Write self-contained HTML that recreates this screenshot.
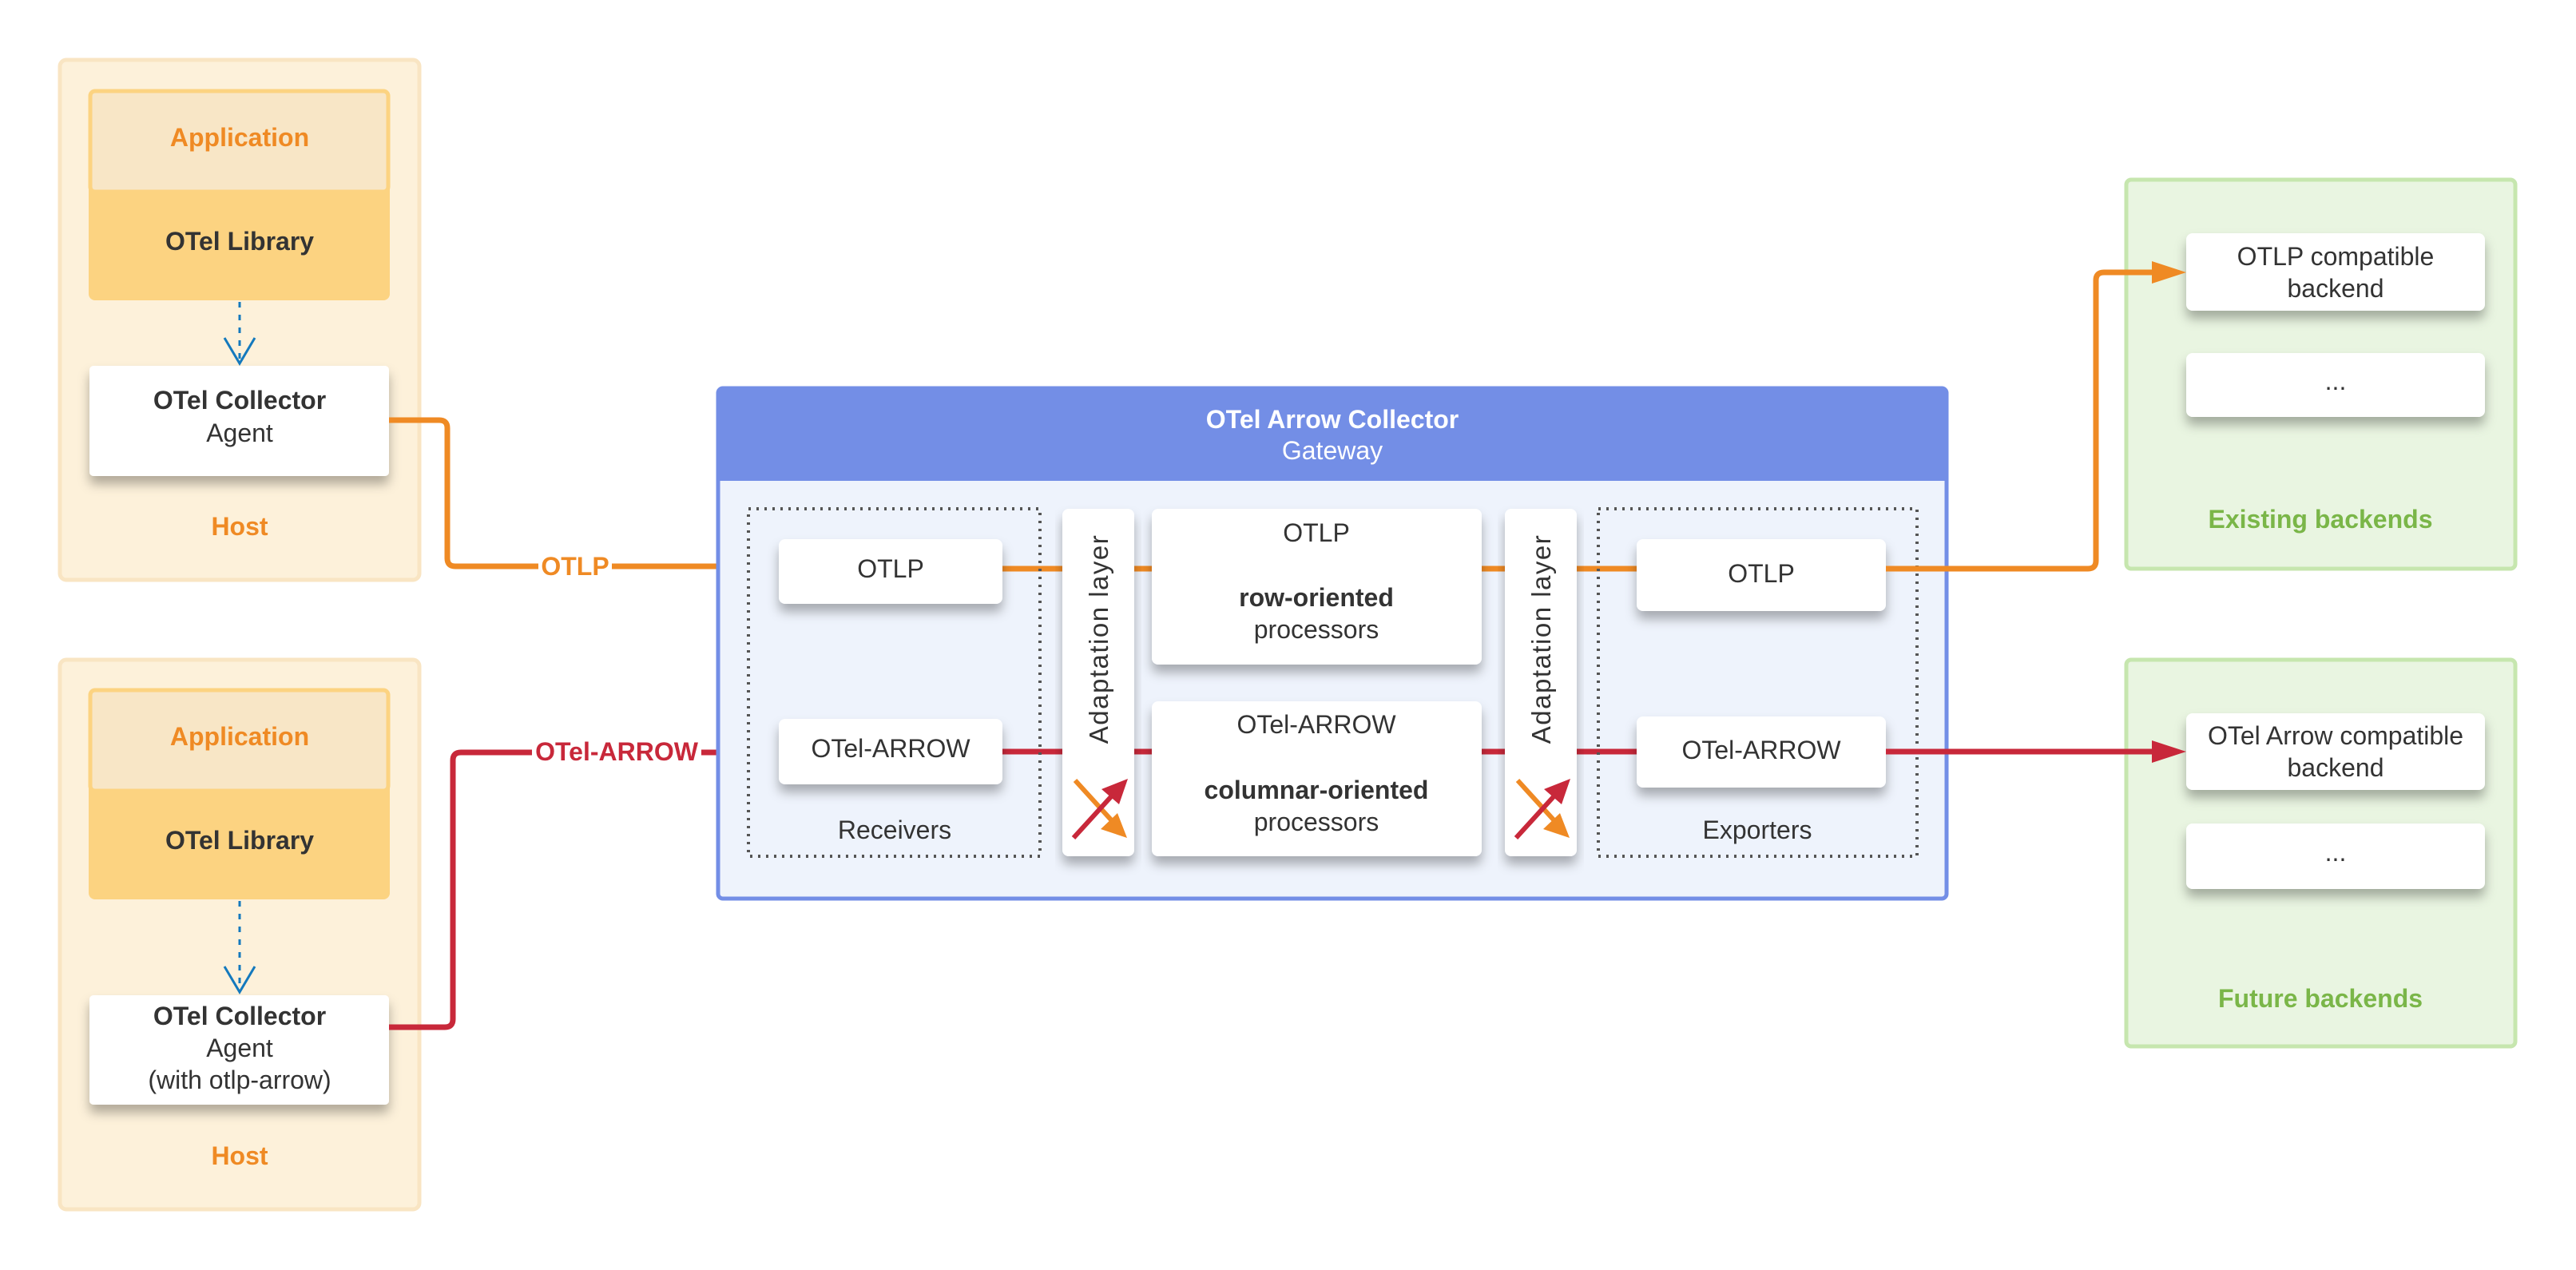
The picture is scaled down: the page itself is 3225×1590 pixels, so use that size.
<!DOCTYPE html>
<html><head><meta charset="utf-8"><style>
html,body{margin:0;padding:0;background:#fff;}
svg{display:block;}
text{font-family:"Liberation Sans",Arial,sans-serif;}
</style></head><body>
<svg width="3225" height="1590" viewBox="0 0 3225 1590" xmlns="http://www.w3.org/2000/svg">
<defs>
<filter id="sh" x="-10%" y="-20%" width="120%" height="160%">
<feDropShadow dx="0" dy="10" stdDeviation="7" flood-color="#000" flood-opacity="0.3"/>
</filter>
</defs>
<rect width="3225" height="1590" fill="#fff"/>

<!-- Host 1 -->
<rect x="75" y="75" width="450" height="651" rx="8" fill="#fdf1da" stroke="#f9e5c3" stroke-width="5"/>
<rect x="111" y="112" width="377" height="264" rx="8" fill="#fcd381"/>
<rect x="113" y="114" width="373" height="126" rx="6" fill="#f8e6c6" stroke="#fcd381" stroke-width="5"/>
<text x="300" y="183" font-size="32" font-weight="bold" fill="#ef8a24" text-anchor="middle">Application</text>
<text x="300" y="313" font-size="32" font-weight="bold" fill="#333" text-anchor="middle">OTel Library</text>
<line x1="300" y1="378" x2="300" y2="450" stroke="#1479bd" stroke-width="3" stroke-dasharray="7,9"/>
<polyline points="281,423 300,455 319,423" fill="none" stroke="#1479bd" stroke-width="3"/>
<rect x="112" y="458" width="375" height="138" rx="5" fill="#fff" filter="url(#sh)"/>
<text x="300" y="512" font-size="32" font-weight="bold" fill="#333" text-anchor="middle">OTel Collector</text>
<text x="300" y="553" font-size="32" fill="#333" text-anchor="middle">Agent</text>
<text x="300" y="670" font-size="32" font-weight="bold" fill="#ef8a24" text-anchor="middle">Host</text>

<!-- Host 2 -->
<rect x="75" y="826" width="450" height="688" rx="8" fill="#fdf1da" stroke="#f9e5c3" stroke-width="5"/>
<rect x="111" y="862" width="377" height="264" rx="8" fill="#fcd381"/>
<rect x="113" y="864" width="373" height="126" rx="6" fill="#f8e6c6" stroke="#fcd381" stroke-width="5"/>
<text x="300" y="933" font-size="32" font-weight="bold" fill="#ef8a24" text-anchor="middle">Application</text>
<text x="300" y="1063" font-size="32" font-weight="bold" fill="#333" text-anchor="middle">OTel Library</text>
<line x1="300" y1="1128" x2="300" y2="1238" stroke="#1479bd" stroke-width="3" stroke-dasharray="7,9"/>
<polyline points="281,1210 300,1242 319,1210" fill="none" stroke="#1479bd" stroke-width="3"/>
<rect x="112" y="1246" width="375" height="137" rx="5" fill="#fff" filter="url(#sh)"/>
<text x="300" y="1283" font-size="32" font-weight="bold" fill="#333" text-anchor="middle">OTel Collector</text>
<text x="300" y="1323" font-size="32" fill="#333" text-anchor="middle">Agent</text>
<text x="300" y="1363" font-size="32" fill="#333" text-anchor="middle">(with otlp-arrow)</text>
<text x="300" y="1458" font-size="32" font-weight="bold" fill="#ef8a24" text-anchor="middle">Host</text>

<!-- Left connectors -->
<path d="M487,526 H550 Q560,526 560,536 V699 Q560,709 570,709 H975" fill="none" stroke="#ef8a24" stroke-width="7"/>
<rect x="674" y="690" width="92" height="38" fill="#fff"/>
<text x="720" y="720" font-size="32" font-weight="bold" fill="#ef8a24" text-anchor="middle">OTLP</text>
<path d="M487,1286 H557 Q567,1286 567,1276 V952 Q567,942 577,942 H975" fill="none" stroke="#c8283a" stroke-width="7"/>
<rect x="666" y="922" width="212" height="38" fill="#fff"/>
<text x="772" y="952" font-size="32" font-weight="bold" fill="#c8283a" text-anchor="middle">OTel-ARROW</text>

<!-- Gateway -->
<rect x="899" y="486" width="1538" height="639" rx="6" fill="#eef3fc" stroke="#738ee6" stroke-width="5"/>
<path d="M899,602 V492 Q899,486 905,486 H2431 Q2437,486 2437,492 V602 Z" fill="#738ee6"/>
<text x="1668" y="536" font-size="32" font-weight="bold" fill="#fff" text-anchor="middle">OTel Arrow Collector</text>
<text x="1668" y="575" font-size="32" fill="#fff" text-anchor="middle">Gateway</text>

<!-- internal lines -->
<line x1="975" y1="712" x2="2361" y2="712" stroke="#ef8a24" stroke-width="7"/>
<line x1="975" y1="941" x2="2361" y2="941" stroke="#c8283a" stroke-width="7"/>

<rect x="937" y="637" width="365" height="435" fill="none" stroke="#555" stroke-width="4" stroke-dasharray="3,7"/>
<rect x="2001" y="637" width="399" height="435" fill="none" stroke="#555" stroke-width="4" stroke-dasharray="3,7"/>

<rect x="975" y="675" width="280" height="81" rx="8" fill="#fff" filter="url(#sh)"/>
<text x="1115" y="723" font-size="32" fill="#333" text-anchor="middle">OTLP</text>
<rect x="975" y="900" width="280" height="82" rx="8" fill="#fff" filter="url(#sh)"/>
<text x="1115" y="948" font-size="32" fill="#333" text-anchor="middle">OTel-ARROW</text>
<text x="1120" y="1050" font-size="32" fill="#333" text-anchor="middle">Receivers</text>

<rect x="2049" y="675" width="312" height="90" rx="8" fill="#fff" filter="url(#sh)"/>
<text x="2205" y="729" font-size="32" fill="#333" text-anchor="middle">OTLP</text>
<rect x="2049" y="897" width="312" height="89" rx="8" fill="#fff" filter="url(#sh)"/>
<text x="2205" y="950" font-size="32" fill="#333" text-anchor="middle">OTel-ARROW</text>
<text x="2200" y="1050" font-size="32" fill="#333" text-anchor="middle">Exporters</text>

<rect x="1442" y="637" width="413" height="195" rx="8" fill="#fff" filter="url(#sh)"/>
<text x="1648" y="678" font-size="32" fill="#333" text-anchor="middle">OTLP</text>
<text x="1648" y="759" font-size="32" font-weight="bold" fill="#333" text-anchor="middle">row-oriented</text>
<text x="1648" y="799" font-size="32" fill="#333" text-anchor="middle">processors</text>
<rect x="1442" y="878" width="413" height="194" rx="8" fill="#fff" filter="url(#sh)"/>
<text x="1648" y="918" font-size="32" fill="#333" text-anchor="middle">OTel-ARROW</text>
<text x="1648" y="1000" font-size="32" font-weight="bold" fill="#333" text-anchor="middle">columnar-oriented</text>
<text x="1648" y="1040" font-size="32" fill="#333" text-anchor="middle">processors</text>

<!-- Adaptation layers -->
<g transform="translate(2,0)">
<rect x="1328" y="637" width="90" height="435" rx="8" fill="#fff" filter="url(#sh)"/>
<text transform="translate(1385,800) rotate(-90)" font-size="33" letter-spacing="1.5" fill="#333" text-anchor="middle">Adaptation layer</text>
<line x1="1344" y1="977" x2="1395" y2="1033" stroke="#ef8a24" stroke-width="6"/>
<polygon points="1409,1049 1376,1038 1397,1018" fill="#ef8a24"/>
<line x1="1342" y1="1049" x2="1393" y2="993" stroke="#c8283a" stroke-width="6"/>
<polygon points="1410,975 1399,1007 1377,988" fill="#c8283a"/>
</g>
<g transform="translate(556,0)">
<rect x="1328" y="637" width="90" height="435" rx="8" fill="#fff" filter="url(#sh)"/>
<text transform="translate(1385,800) rotate(-90)" font-size="33" letter-spacing="1.5" fill="#333" text-anchor="middle">Adaptation layer</text>
<line x1="1344" y1="977" x2="1395" y2="1033" stroke="#ef8a24" stroke-width="6"/>
<polygon points="1409,1049 1376,1038 1397,1018" fill="#ef8a24"/>
<line x1="1342" y1="1049" x2="1393" y2="993" stroke="#c8283a" stroke-width="6"/>
<polygon points="1410,975 1399,1007 1377,988" fill="#c8283a"/>
</g>

<!-- Backends -->
<rect x="2662" y="225" width="487" height="487" rx="6" fill="#e9f5e1" stroke="#c6e6ae" stroke-width="5"/>
<rect x="2737" y="292" width="374" height="97" rx="8" fill="#fff" filter="url(#sh)"/>
<text x="2924" y="332" font-size="32" fill="#333" text-anchor="middle">OTLP compatible</text>
<text x="2924" y="372" font-size="32" fill="#333" text-anchor="middle">backend</text>
<rect x="2737" y="442" width="374" height="80" rx="8" fill="#fff" filter="url(#sh)"/>
<text x="2924" y="488" font-size="32" fill="#333" text-anchor="middle">...</text>
<text x="2905" y="661" font-size="32" font-weight="bold" fill="#7ab648" text-anchor="middle">Existing backends</text>

<rect x="2662" y="826" width="487" height="484" rx="6" fill="#e9f5e1" stroke="#c6e6ae" stroke-width="5"/>
<rect x="2737" y="893" width="374" height="96" rx="8" fill="#fff" filter="url(#sh)"/>
<text x="2924" y="932" font-size="32" fill="#333" text-anchor="middle">OTel Arrow compatible</text>
<text x="2924" y="972" font-size="32" fill="#333" text-anchor="middle">backend</text>
<rect x="2737" y="1031" width="374" height="82" rx="8" fill="#fff" filter="url(#sh)"/>
<text x="2924" y="1078" font-size="32" fill="#333" text-anchor="middle">...</text>
<text x="2905" y="1261" font-size="32" font-weight="bold" fill="#7ab648" text-anchor="middle">Future backends</text>

<!-- right connectors -->
<path d="M2361,712 H2614 Q2624,712 2624,702 V351 Q2624,341 2634,341 H2700" fill="none" stroke="#ef8a24" stroke-width="7"/>
<polygon points="2694,327 2737,341 2694,355" fill="#ef8a24"/>
<line x1="2361" y1="941" x2="2700" y2="941" stroke="#c8283a" stroke-width="7"/>
<polygon points="2694,927 2737,941 2694,955" fill="#c8283a"/>
</svg>
</body></html>
